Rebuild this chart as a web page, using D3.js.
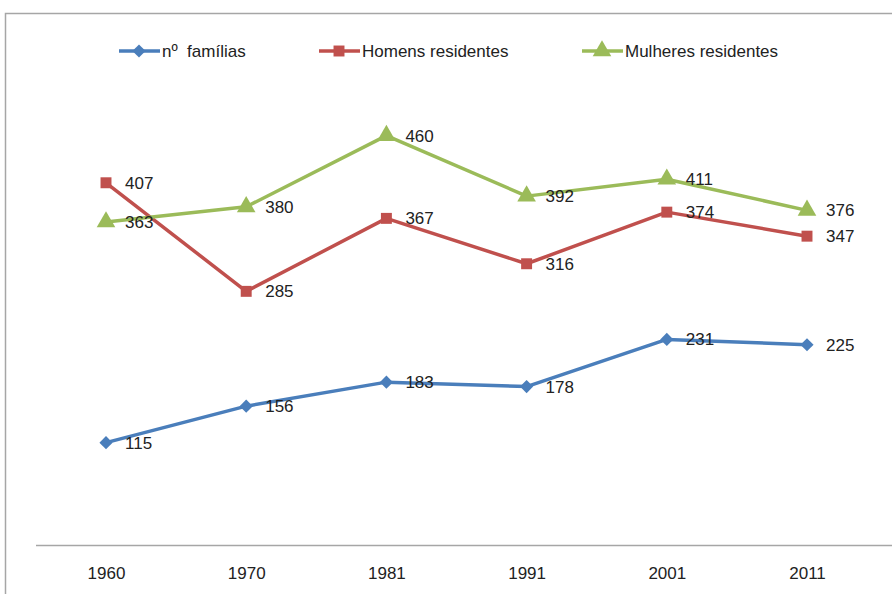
<!DOCTYPE html>
<html>
<head>
<meta charset="utf-8">
<script src="https://cdn.jsdelivr.net/npm/d3@7"></script>
<style>
  body { margin: 0; background: #fff; }
  text { font-family: "Liberation Sans", Arial, sans-serif; fill: #222; white-space: pre; }
</style>
</head>
<body>
<svg id="chart"></svg>
<script>
// data
const years = ["1960", "1970", "1981", "1991", "2001", "2011"];
const familias = [115, 156, 183, 178, 231, 225];
const homens = [407, 285, 367, 316, 374, 347];
const mulheres = [363, 380, 460, 392, 411, 376];
const seriesNames = ["nº  famílias", "Homens residentes", "Mulheres residentes"];
const seriesColors = ["#4a7ebb", "#c0504d", "#9bbb59"];
const seriesShapes = [d3.symbolDiamond2, d3.symbolSquare, d3.symbolTriangle];

const width = 892, height = 594;
const svg = d3.select("#chart").attr("width", width).attr("height", height);

// outer frame (cropped at right and bottom)
svg.append("path")
  .attr("d", `M5.5 ${height + 2} V13.5 H${width + 2}`)
  .attr("fill", "none")
  .attr("stroke", "#a6a6a6")
  .attr("stroke-width", 1.5);

const x = d3.scalePoint().domain(years).range([106, 807]);
const y = d3.scaleLinear().domain([0, 500]).range([545, 100]);

// category axis line
svg.append("line")
  .attr("x1", 36).attr("x2", 892)
  .attr("y1", 545.5).attr("y2", 545.5)
  .attr("stroke", "#a6a6a6")
  .attr("stroke-width", 1.5);

const xAxis = svg.append("g")
  .attr("transform", "translate(0,545)")
  .call(d3.axisBottom(x).tickSize(0).tickPadding(22));
xAxis.select(".domain").remove();
xAxis.selectAll("text")
  .attr("font-size", 17)
  .attr("font-family", "Liberation Sans, Arial, sans-serif")
  .attr("fill", "#222");

const allSeries = [familias, homens, mulheres];
const markerSizes = [110, 120, 150];

const line = d3.line()
  .x((d, i) => x(years[i]))
  .y(d => y(d));

allSeries.forEach((vals, s) => {
  svg.append("path")
    .datum(vals)
    .attr("d", line)
    .attr("fill", "none")
    .attr("stroke", seriesColors[s])
    .attr("stroke-width", 3.5)
    .attr("stroke-linejoin", "round");

  svg.selectAll(".m" + s)
    .data(vals)
    .enter()
    .append("path")
    .attr("class", "m" + s)
    .attr("transform", (d, i) => `translate(${x(years[i])},${y(d)})`)
    .attr("d", d3.symbol().type(seriesShapes[s]).size(markerSizes[s]))
    .attr("fill", seriesColors[s]);
});

// data labels, drawn after all lines
allSeries.forEach((vals, s) => {
  svg.selectAll(".l" + s)
    .data(vals)
    .enter()
    .append("text")
    .attr("x", (d, i) => x(years[i]) + 19)
    .attr("y", d => y(d))
    .attr("dy", "0.35em")
    .attr("font-size", 17)
    .text(d => d);
});

// legend
const legendX = [119, 319, 582];
const legend = svg.selectAll(".legend")
  .data(seriesNames)
  .enter()
  .append("g")
  .attr("class", "legend")
  .attr("transform", (d, i) => `translate(${legendX[i]},51)`);

legend.append("line")
  .attr("x1", 0).attr("x2", 41)
  .attr("stroke", (d, i) => seriesColors[i])
  .attr("stroke-width", 3.5);

legend.append("path")
  .attr("transform", "translate(20,0)")
  .attr("d", (d, i) => d3.symbol().type(seriesShapes[i]).size(markerSizes[i])())
  .attr("fill", (d, i) => seriesColors[i]);

legend.append("text")
  .attr("x", 43)
  .attr("dy", "0.35em")
  .attr("font-size", 17)
  .text(d => d);
</script>
</body>
</html>
